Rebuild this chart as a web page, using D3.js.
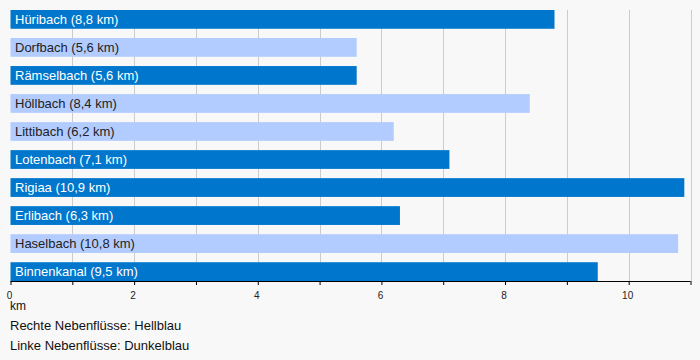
<!DOCTYPE html>
<html><head><meta charset="utf-8">
<script src="https://cdn.jsdelivr.net/npm/d3@7"></script>
<style>
html,body{margin:0;padding:0;background:#f8f8f8;}
svg{display:block;font-family:"Liberation Sans",Arial,sans-serif;}
</style></head>
<body>
<svg id="chart" width="700" height="360"></svg>
<script>
const names = ["Hüribach","Dorfbach","Rämselbach","Höllbach","Littibach","Lotenbach","Rigiaa","Erlibach","Haselbach","Binnenkanal"];
const lengths = [8.8,5.6,5.6,8.4,6.2,7.1,10.9,6.3,10.8,9.5];
const sides = ["links","rechts","links","rechts","rechts","links","links","links","rechts","links"];
const tickValues = [0,2,4,6,8,10];
const axisTitle = "km";
const notes = ["Rechte Nebenflüsse: Hellblau","Linke Nebenflüsse: Dunkelblau"];

const data = names.map((n,i)=>({name:n,len:lengths[i],side:sides[i]}));
const svg = d3.select("#chart");
const x = d3.scaleLinear().domain([0,11]).range([10.5,690.5]);
const y = d3.scaleBand().domain(names).range([10,281]).paddingInner(0.33).paddingOuter(0);
const color = d3.scaleOrdinal().domain(["rechts","links"]).range(["#b3ccff","#0077cc"]);
const textColor = d3.scaleOrdinal().domain(["rechts","links"]).range(["#222","#fff"]);

// grid
svg.append("g").selectAll("line").data(d3.range(1,12)).join("line")
  .attr("x1",d=>Math.round(x(d))+0.5).attr("x2",d=>Math.round(x(d))+0.5)
  .attr("y1",10).attr("y2",281).attr("stroke","#cccccc").attr("stroke-width",1);

// bars
svg.append("g").selectAll("rect").data(data).join("rect")
  .attr("x",x(0)).attr("y",d=>y(d.name))
  .attr("width",d=>x(d.len)-x(0)).attr("height",y.bandwidth())
  .attr("fill",d=>color(d.side));

svg.append("g").selectAll("text").data(data).join("text")
  .attr("x",15).attr("y",d=>y(d.name)+y.bandwidth()/2+4.5)
  .attr("font-size",13).attr("fill",d=>textColor(d.side))
  .text(d=>`${d.name} (${d3.format(".1f")(d.len).replace(".",",")} km)`);

// axis
const axis = d3.axisBottom(x).tickValues(d3.range(0,12)).tickSize(4)
  .tickFormat(d=>tickValues.includes(d)?String(d):"");
const ag = svg.append("g").attr("transform","translate(0,281)").call(axis);
ag.select(".domain").attr("stroke","#000").attr("d","M10.5,0.5H690.5");
ag.selectAll(".tick line").attr("stroke","#000");
ag.selectAll(".tick text").attr("font-size",10).attr("font-family","Liberation Sans, Arial, sans-serif")
  .attr("fill","#222").attr("y",11).attr("dx",-1.5);

svg.append("text").attr("x",10).attr("y",310).attr("font-size",12).attr("fill","#111").text(axisTitle);
svg.append("g").selectAll("text").data(notes).join("text")
  .attr("x",10).attr("y",(d,i)=>330+i*20).attr("font-size",13).attr("fill","#111").text(d=>d);
</script>
</body></html>
